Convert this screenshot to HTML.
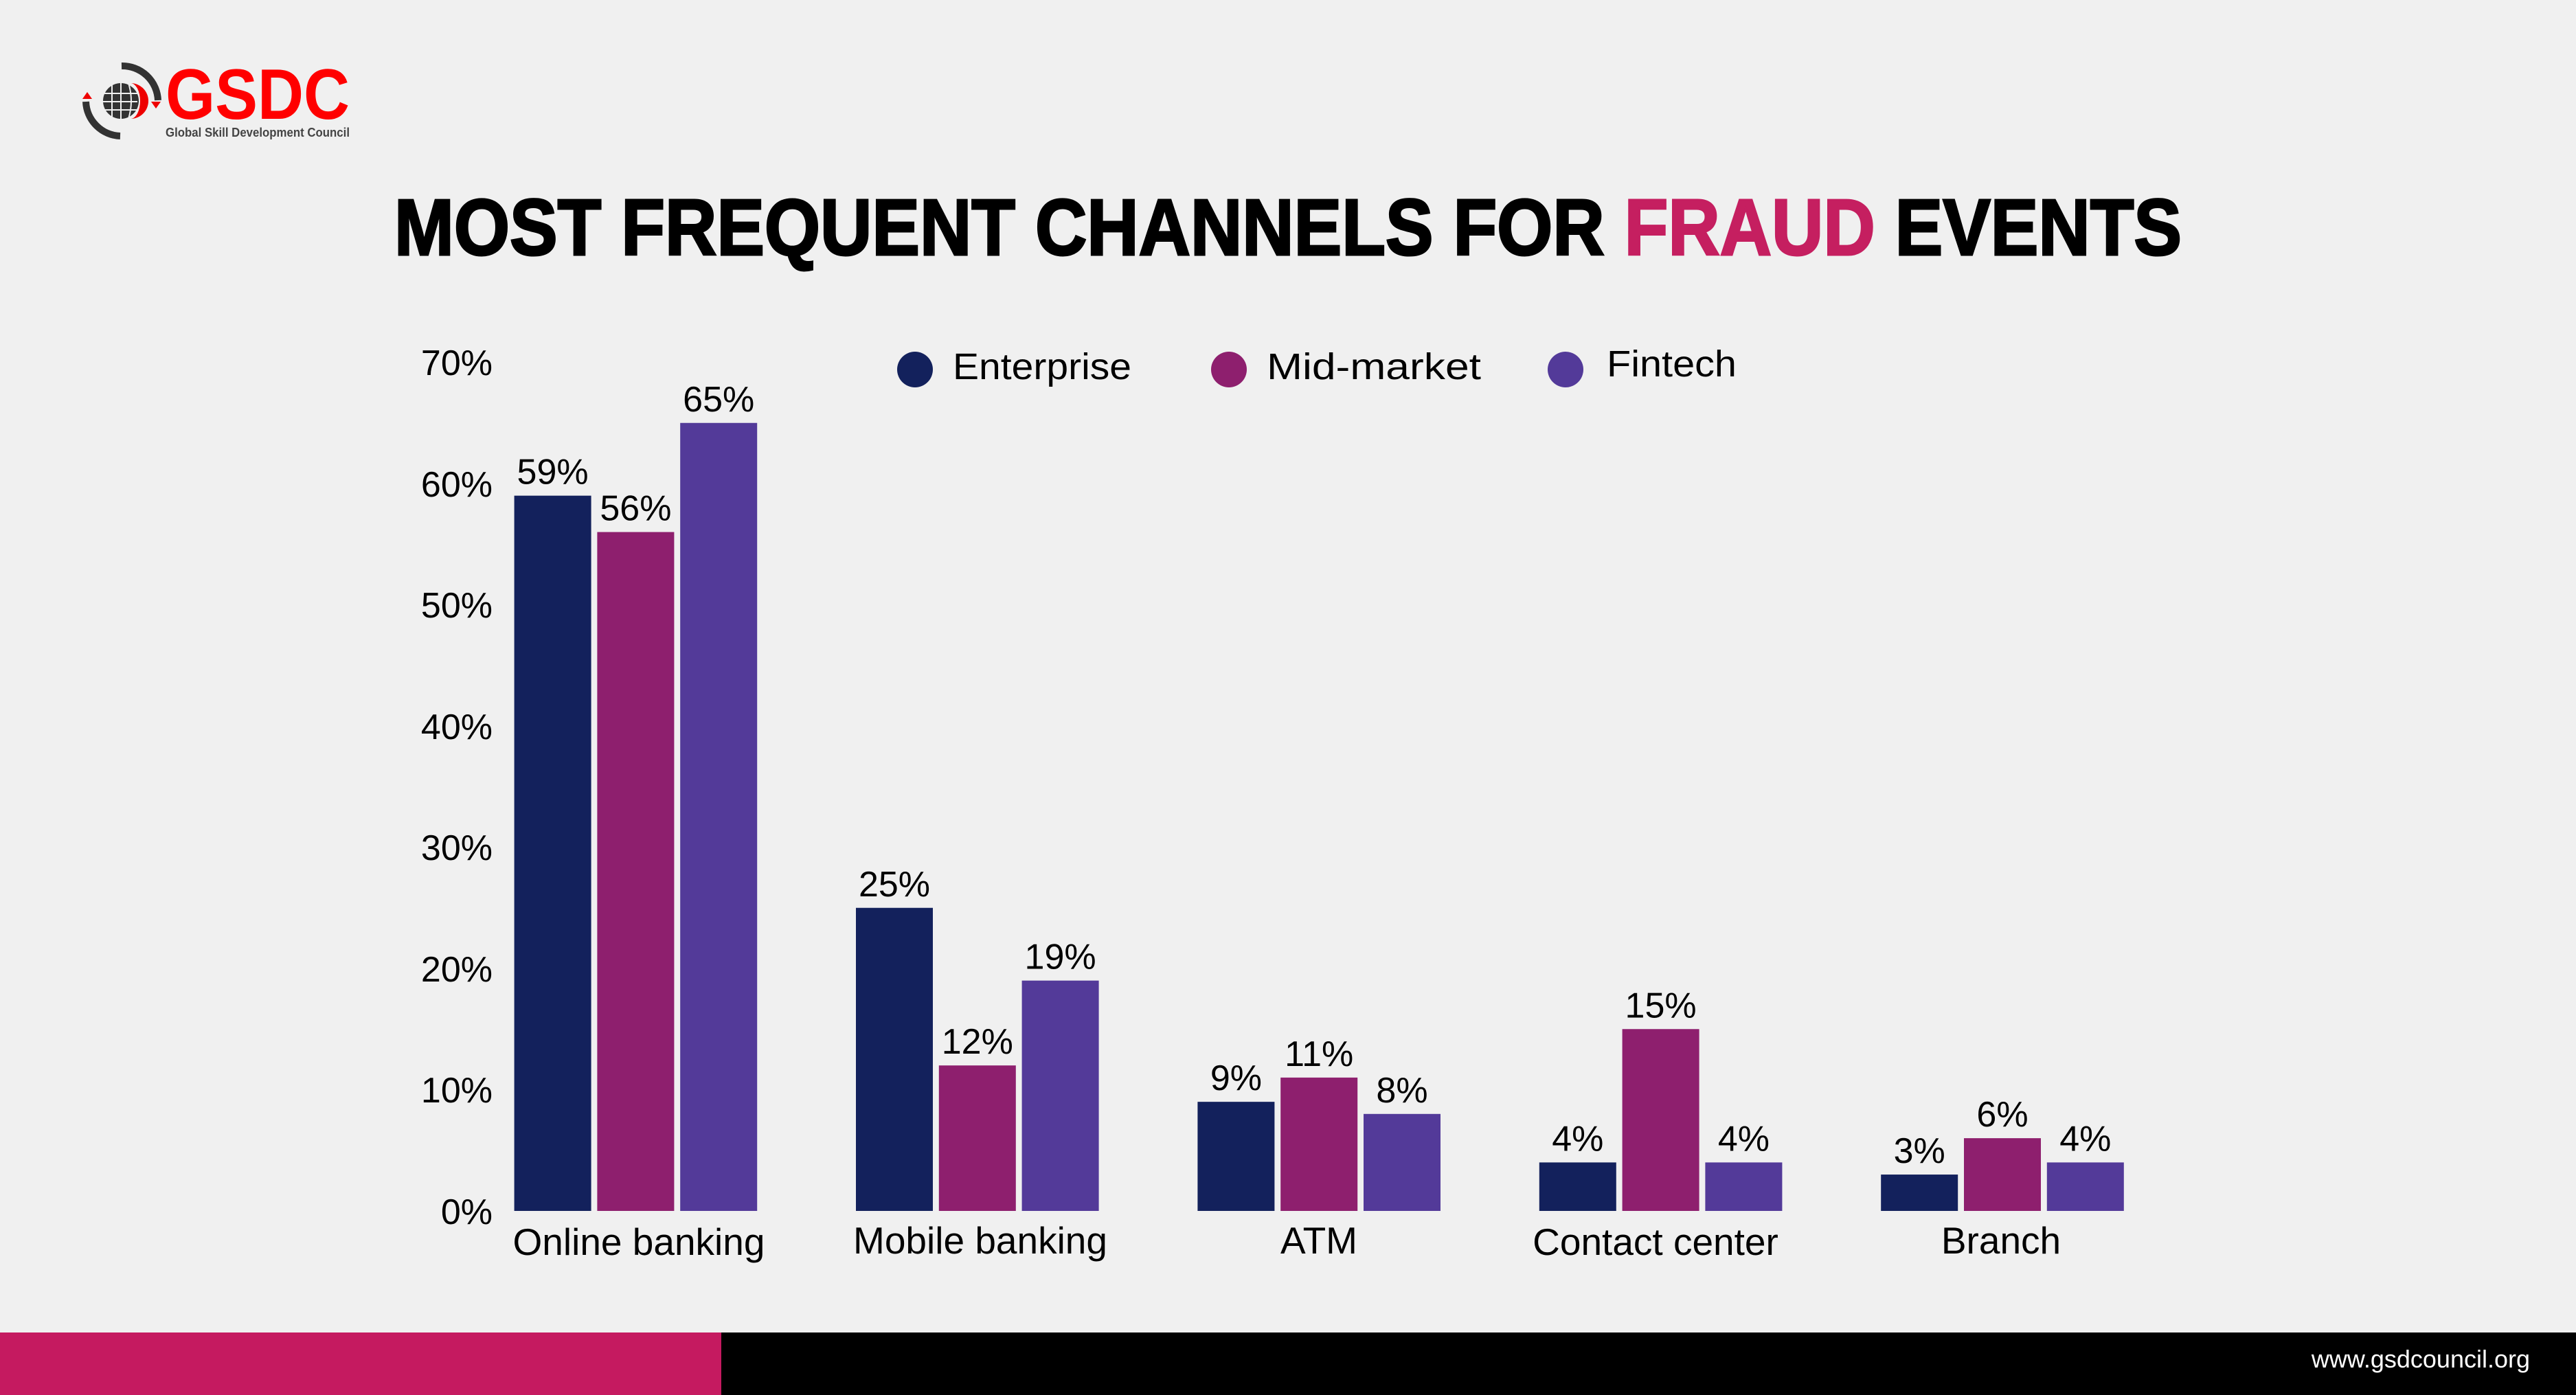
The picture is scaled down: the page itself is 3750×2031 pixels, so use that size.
<!DOCTYPE html>
<html><head><meta charset="utf-8"><style>
html,body{margin:0;padding:0;background:#f0f0f0;}
svg{display:block;}
text{font-family:"Liberation Sans",sans-serif;}
</style></head><body>
<svg width="3750" height="2031" viewBox="0 0 3750 2031" xmlns="http://www.w3.org/2000/svg">
<rect width="3750" height="2031" fill="#f0f0f0"/>
<!-- logo -->
<g>
<path d="M177 96 A52 52 0 0 1 230 146" stroke="#333" stroke-width="10" fill="none"/>
<path d="M175 198 A52 52 0 0 1 125 148" stroke="#333" stroke-width="10" fill="none"/>
<polygon points="120,144 134,144 127,134" fill="#e00"/>
<polygon points="220,148 234,148 227,158" fill="#e00"/>
<circle cx="176" cy="147" r="26" fill="#333"/>
<path d="M190 121 A26 26 0 0 1 190 173 A14 26 0 0 0 190 121Z" fill="#e00"/>
<g stroke="#f0f0f0" stroke-width="2" fill="none">
<line x1="150" y1="136" x2="200" y2="136"/><line x1="150" y1="148" x2="200" y2="148"/><line x1="150" y1="160" x2="200" y2="160"/>
<line x1="163" y1="121" x2="163" y2="173"/><line x1="176" y1="121" x2="176" y2="173"/><path d="M187 121 Q195 147 187 173"/>
</g>
<text x="241" y="173" font-size="104" font-weight="bold" fill="#f00" textLength="268" lengthAdjust="spacingAndGlyphs">GSDC</text>
<text x="241" y="199" font-size="18" font-weight="bold" fill="#444" textLength="268" lengthAdjust="spacingAndGlyphs">Global Skill Development Council</text>
</g>
<!-- title -->
<text x="574" y="371" font-size="116" font-weight="bold" fill="#000" textLength="2602" lengthAdjust="spacingAndGlyphs" stroke="#000" stroke-width="3">MOST FREQUENT CHANNELS FOR <tspan fill="#c51f60" stroke="#c51f60">FRAUD</tspan> EVENTS</text>
<!-- y ticks -->
<g font-size="52" fill="#000" text-anchor="end">
<text x="717" y="1782">0%</text>
<text x="717" y="1605">10%</text>
<text x="717" y="1429">20%</text>
<text x="717" y="1252">30%</text>
<text x="717" y="1076">40%</text>
<text x="717" y="899">50%</text>
<text x="717" y="723">60%</text>
<text x="717" y="546">70%</text>
</g>
<!-- legend -->
<circle cx="1332" cy="538" r="26" fill="#13215c"/>
<text x="1387" y="552" font-size="54" fill="#000" textLength="260" lengthAdjust="spacingAndGlyphs">Enterprise</text>
<circle cx="1789" cy="538" r="26" fill="#8e1f6e"/>
<text x="1844" y="552" font-size="54" fill="#000" textLength="312" lengthAdjust="spacingAndGlyphs">Mid-market</text>
<circle cx="2279" cy="538" r="26" fill="#533a99"/>
<text x="2339" y="548" font-size="54" fill="#000" textLength="189" lengthAdjust="spacingAndGlyphs">Fintech</text>
<!-- bars -->
<g id="bars"></g>
<g font-size="52" fill="#000" text-anchor="middle" id="labels"></g>
<g font-size="55" fill="#000" text-anchor="middle">
<text x="930" y="1827">Online banking</text>
<text x="1427" y="1825">Mobile banking</text>
<text x="1920" y="1825">ATM</text>
<text x="2410" y="1827">Contact center</text>
<text x="2913" y="1825">Branch</text>
</g>
<!-- footer -->
<rect x="0" y="1940" width="1050" height="91" fill="#c51a60"/>
<rect x="1050" y="1940" width="2700" height="91" fill="#000"/>
<text x="3683" y="1991" font-size="36" fill="#fff" text-anchor="end">www.gsdcouncil.org</text>
<script>
var d=[[59,56,65],[25,12,19],[9,11,8],[4,15,4],[3,6,4]];
var c=["#13215c","#8e1f6e","#533a99"];
var g=document.getElementById("bars"),l=document.getElementById("labels"),ns="http://www.w3.org/2000/svg";
for(var i=0;i<5;i++)for(var j=0;j<3;j++){var v=d[i][j],x=748.6+i*497.4+j*120.8,h=v*17.65,y=1763-h;
var r=document.createElementNS(ns,"rect");r.setAttribute("x",x);r.setAttribute("y",y);r.setAttribute("width",112);r.setAttribute("height",h);r.setAttribute("fill",c[j]);g.appendChild(r);
var t=document.createElementNS(ns,"text");t.setAttribute("x",x+56);t.setAttribute("y",y-17);t.textContent=v+"%";l.appendChild(t);}
</script>
</svg>
</body></html>
